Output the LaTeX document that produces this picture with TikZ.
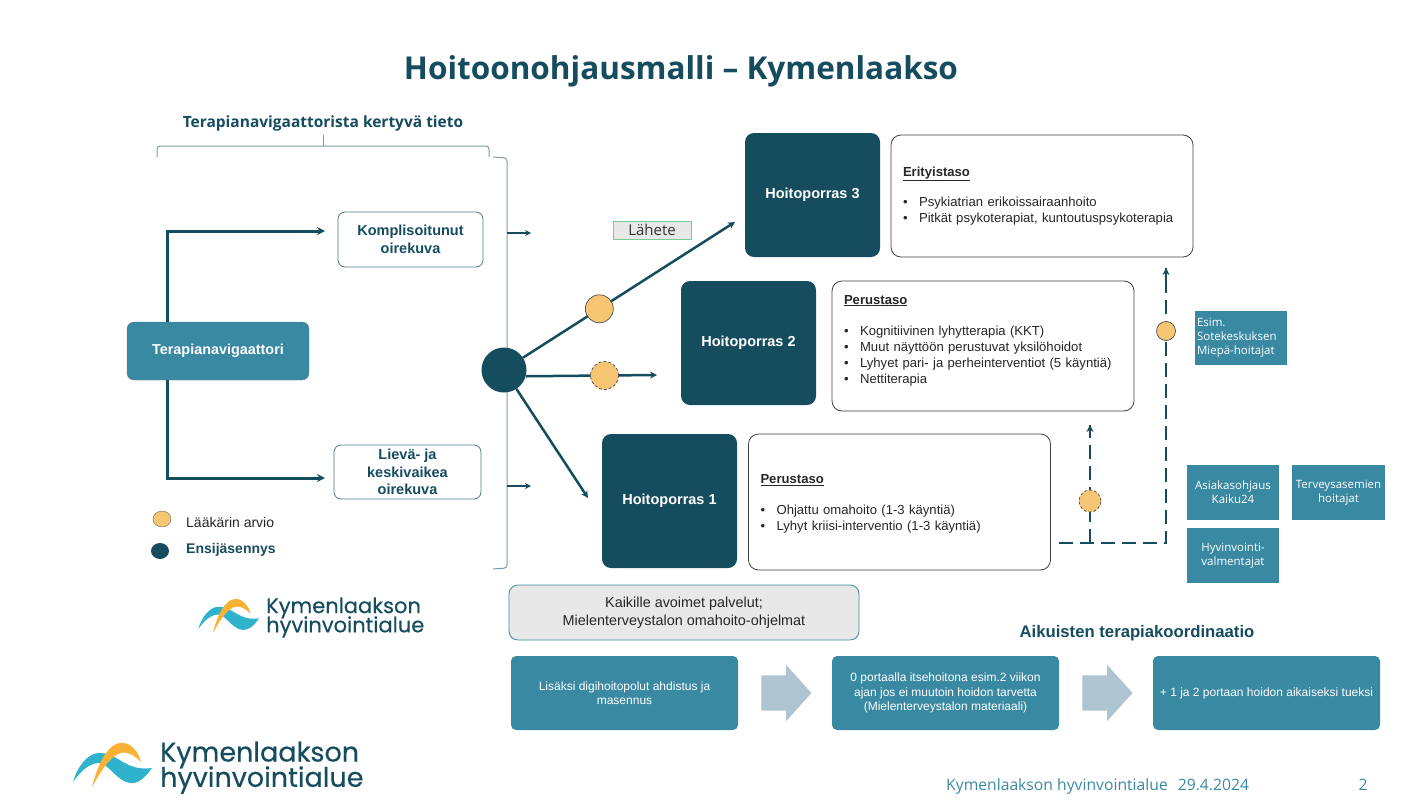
\documentclass[tikz,border=0pt]{standalone}
\usepackage{fontspec}
\usepackage{xcolor}
\usepackage{tikz}
\usetikzlibrary{arrows.meta,shapes.arrows,shapes.geometric}
\setmainfont{Liberation Sans}
\newfontfamily\headfont{Open Sans}
\newfontfamily\logofont[FakeBold=0.3]{Poppins}
\definecolor{maindark}{RGB}{21,76,94}
\definecolor{mainteal}{RGB}{58,137,163}
\definecolor{arviofill}{RGB}{247,198,114}
\definecolor{wavecyan}{RGB}{47,178,204}
\definecolor{waveorange}{RGB}{249,178,51}
\definecolor{blockarrow}{RGB}{174,196,208}
\definecolor{bracketgray}{RGB}{125,155,167}
\definecolor{lahetegreen}{RGB}{120,205,150}
\newcommand{\bul}[1]{\textbullet\hspace{11.5pt}#1}
\newcommand{\logowaves}{%
  \fill[wavecyan] (73,782) .. controls (78,765) and (88,754) .. (98,753)
    .. controls (118,752) and (125,772) .. (152,768)
    .. controls (145,778) and (138,784) .. (130,783)
    .. controls (116,781) and (108,762) .. (98,763)
    .. controls (88,764) and (80,772) .. (73,782) -- cycle;
  \fill[waveorange] (92,787) .. controls (97,768) and (104,750) .. (116,744)
    .. controls (128,739) and (138,750) .. (141,762)
    .. controls (134,755) and (126,750) .. (118,754)
    .. controls (108,759) and (100,773) .. (92,787) -- cycle;
}
\tikzset{
  navbox/.style={rounded corners=7pt,draw=maindark!70,fill=mainteal,text=white,font=\fontsize{14.4}{16}\selectfont\bfseries,minimum width=182pt,minimum height=58pt,inner sep=0pt},
  oirebox/.style={rounded corners=7pt,draw=maindark!75,line width=.8pt,fill=white,text=maindark,align=center,font=\fontsize{14.5}{17.5}\selectfont\bfseries,inner sep=0pt},
  porrasbox/.style={rounded corners=9pt,fill=maindark,text=white,minimum width=135pt,font=\fontsize{14.5}{17}\selectfont\bfseries,inner sep=0pt},
  tasobox/.style={rounded corners=10pt,draw=black!75,line width=.8pt,fill=white,text=black!85,align=left,font=\fontsize{13.1}{16}\selectfont,inner sep=0pt,inner xsep=12pt,text width=278pt},
  tiimibox/.style={fill=mainteal,text=white,align=center,font=\headfont\fontsize{11.5}{14}\selectfont,inner sep=0pt},
  koordbox/.style={rounded corners=5pt,fill=mainteal,text=white,align=center,font=\fontsize{12}{14.5}\selectfont,minimum width=227pt,minimum height=74pt,inner sep=0pt},
  blocknuoli/.style={single arrow,fill=blockarrow,inner sep=0pt,text height=35pt,text depth=0pt,minimum height=50pt,single arrow head extend=10.5pt,single arrow tip angle=96},
  arvio/.style={circle,draw=black!70,fill=arviofill,line width=.7pt,minimum size=#1,inner sep=0pt},
  arviodash/.style={arvio=#1,densely dashed},
  paksu/.style={draw=maindark,line width=3pt,-{Stealth[length=8pt,width=8pt]}},
  ohut/.style={draw=maindark,line width=2pt,-{Stealth[length=7pt,width=7pt]}},
  katko/.style={draw=maindark,line width=2pt,dash pattern=on 14pt off 7pt},
  hakanen/.style={draw=bracketgray,line width=1pt,rounded corners=3pt}
}
\begin{document}
\begin{tikzpicture}[x=1pt,y=-1pt,>=Stealth]
  \useasboundingbox (0,0) rectangle (1409,806);
  \node[text=maindark,font=\headfont\fontsize{31.5}{40}\selectfont\bfseries] (otsikko) at (681,71.5) {Hoitoonohjausmalli – Kymenlaakso};
  \node[text=maindark,font=\headfont\fontsize{15.5}{20}\selectfont\bfseries] (tieto) at (323,123) {Terapianavigaattorista kertyvä tieto};

  % hakaset
  \coordinate (ha) at (157,157);
  \coordinate (hb) at (323,146);
  \coordinate (hc) at (489,157);
  \coordinate (hd) at (323,135);
  \coordinate (he) at (493,157);
  \coordinate (hf) at (507,158);
  \coordinate (hg) at (507,568);
  \coordinate (hh) at (493,569);
  \draw[hakanen] (ha) |- (hb) -| (hc);
  \draw[hakanen] (hb) -- (hd);
  \draw[hakanen] (he) -- (hf) -- (hg) -- (hh);

  % vasen puoli
  \node[navbox] (nav) at (218,351) {Terapianavigaattori};
  \node[oirebox,minimum width=145pt,minimum height=55pt] (kompl) at (410.5,239.5) {Komplisoitunut\\oirekuva};
  \node[oirebox,minimum width=147pt,minimum height=54pt] (lieva) at (407.5,472) {Lievä- ja\\keskivaikea\\oirekuva};
  \coordinate (navyla) at (167,322);
  \coordinate (navala) at (167,380);
  \coordinate (komplin) at (325,231);
  \coordinate (lievain) at (325,478);
  \draw[paksu] (navyla) |- (komplin);
  \draw[paksu] (navala) |- (lievain);
  \coordinate (yla0) at (507,233);
  \coordinate (yla1) at (531,233);
  \coordinate (ala0) at (507,486);
  \coordinate (ala1) at (531,486);
  \draw[draw=maindark,line width=1.5pt,-{Stealth[length=6pt,width=6pt]}] (yla0) -- (yla1);
  \draw[draw=maindark,line width=1.5pt,-{Stealth[length=6pt,width=6pt]}] (ala0) -- (ala1);

  % portaat
  \node[porrasbox,minimum height=124pt] (porras3) at (812.5,195) {Hoitoporras 3};
  \node[porrasbox,minimum height=124pt] (porras2) at (748.5,343) {Hoitoporras 2};
  \node[porrasbox,minimum height=134pt] (porras1) at (669.5,501) {Hoitoporras 1};
  \node[tasobox,minimum height=122pt] (taso3) at (1042,196) {\underline{\textbf{Erityistaso}}\\[14pt]
    \bul{Psykiatrian erikoissairaanhoito}\\
    \bul{Pitkät psykoterapiat, kuntoutuspsykoterapia}};
  \node[tasobox,minimum height=130pt] (taso2) at (983,346) {\underline{\textbf{Perustaso}}\\[15pt]
    \bul{Kognitiivinen lyhytterapia (KKT)}\\
    \bul{Muut näyttöön perustuvat yksilöhoidot}\\
    \bul{Lyhyet pari- ja perheinterventiot (5 käyntiä)}\\
    \bul{Nettiterapia}\\[-2pt]\mbox{}};
  \node[tasobox,minimum height=136pt] (taso1) at (899.5,502) {\rule{0pt}{13pt}\underline{\textbf{Perustaso}}\\[15pt]
    \bul{Ohjattu omahoito (1-3 käyntiä)}\\
    \bul{Lyhyt kriisi-interventio (1-3 käyntiä)}};

  % ensijasennys ja nuolet
  \node[circle,fill=maindark,minimum size=45pt,inner sep=0pt] (ensi) at (504,370) {};
  \coordinate (nuoli3) at (735,222);
  \coordinate (nuoli2) at (657,375);
  \coordinate (nuoli1) at (588,498);
  \draw[ohut,line width=2.5pt] (ensi.33) -- node[arvio=28pt,pos=.36] (arvio3) {} (nuoli3);
  \draw[ohut,line width=2.5pt] (ensi.-16) -- node[arviodash=28pt,pos=.6] (arvio2) {} (nuoli2);
  \draw[ohut,line width=2.5pt] (ensi) -- (nuoli1);
  \node[fill=black!9,draw=lahetegreen,line width=1pt,minimum width=78pt,minimum height=18pt,inner sep=0pt,font=\headfont\fontsize{15}{18}\selectfont,text=black!80] (lahete) at (652,230) {Lähete};

  % katkoviivat
  \coordinate (k0) at (1059,543);
  \coordinate (k1) at (1090,543);
  \coordinate (k2) at (1166,543);
  \coordinate (k3) at (1090,425);
  \coordinate (k4) at (1166,268);
  \draw[katko] (k0) -- (k2) -- (k4);
  \draw[katko] (k1) -- (k3);
  \draw[draw=maindark,line width=2pt,-{Stealth[length=7pt,width=7pt]}] (1090,436) -- (k3);
  \draw[draw=maindark,line width=2pt,-{Stealth[length=7pt,width=7pt]}] (1166,279) -- (k4);
  \node[arvio=19pt] (arvio5) at (1166,331) {};
  \node[arviodash=22pt] (arvio4) at (1090,501) {};

  % tiimit
  \node[tiimibox,minimum width=92pt,minimum height=54pt,align=left,inner xsep=2pt,text width=88pt] (esim) at (1241,338) {Esim.\\Sotekeskuksen\\Miepä-hoitajat};
  \node[tiimibox,minimum width=92pt,minimum height=55pt] (asiakas) at (1233,492.5) {Asiakasohjaus\\Kaiku24};
  \node[tiimibox,minimum width=93pt,minimum height=55pt] (terveys) at (1338.5,492.5) {Terveysasemien\\hoitajat};
  \node[tiimibox,minimum width=92pt,minimum height=55pt] (hyvin) at (1233,555.5) {Hyvinvointi-\\valmentajat};

  % selite
  \node[ellipse,draw=black!60,fill=arviofill,minimum width=18pt,minimum height=16pt,inner sep=0pt] (seliteA) at (162,519) {};
  \node[ellipse,fill=maindark,minimum width=18pt,minimum height=16pt,inner sep=0pt] (seliteB) at (160,551) {};
  \node[anchor=west,inner sep=0pt,font=\fontsize{14}{15}\selectfont,text=black!85] (arvioteksti) at (186,522.5) {Lääkärin arvio};
  \node[anchor=west,inner sep=0pt,font=\fontsize{14}{15}\selectfont\bfseries,text=maindark] (ensiteksti) at (186,550) {Ensijäsennys};

  % alarivi
  \node[rounded corners=9pt,draw=mainteal,line width=.8pt,fill=black!9,minimum width=350pt,minimum height=55pt,align=center,inner sep=0pt,font=\fontsize{14.4}{18}\selectfont,text=black!85] (avoimet) at (684,612.5) {Kaikille avoimet palvelut;\\Mielenterveystalon omahoito-ohjelmat};
  \node[text=maindark,font=\fontsize{16.7}{20}\selectfont\bfseries] (aikuiset) at (1137,633) {Aikuisten terapiakoordinaatio};
  \node[koordbox] (digi) at (624.5,693) {Lisäksi digihoitopolut ahdistus ja\\masennus};
  \node[koordbox] (nolla) at (945.5,693) {0 portaalla itsehoitona esim.2 viikon\\ajan jos ei muutoin hoidon tarvetta\\(Mielenterveystalon materiaali)};
  \node[koordbox] (tuki) at (1266.5,693) {+ 1 ja 2 portaan hoidon aikaiseksi tueksi};
  \node[blocknuoli] (siirto1) at (778.5,693) {};
  \node[blocknuoli] (siirto2) at (1099.5,693) {};

  % logot
  \logowaves
  \node[anchor=west,inner sep=0pt,text=maindark,font=\logofont\fontsize{27}{27}\selectfont] (logoA) at (160,755) {Kymenlaakson};
  \node[anchor=west,inner sep=0pt,text=maindark,font=\logofont\fontsize{27}{27}\selectfont] (logoB) at (160,780) {hyvinvointialue};
  \begin{scope}[shift={(142,27)},scale=.77]
    \logowaves
  \end{scope}
  \node[anchor=west,inner sep=0pt,text=maindark,font=\logofont\fontsize{21}{21}\selectfont] (pieniA) at (266,608) {Kymenlaakson};
  \node[anchor=west,inner sep=0pt,text=maindark,font=\logofont\fontsize{21}{21}\selectfont] (pieniB) at (266,627) {hyvinvointialue};

  % alatunniste
  \node[anchor=west,inner sep=0pt,text=mainteal,font=\headfont\fontsize{15.7}{18}\selectfont] (ala) at (946,786) {Kymenlaakson hyvinvointialue\hspace{10pt}29.4.2024};
  \node[inner sep=0pt,text=mainteal,font=\headfont\fontsize{15.7}{18}\selectfont] (sivu) at (1363,785) {2};
\end{tikzpicture}
\end{document}
